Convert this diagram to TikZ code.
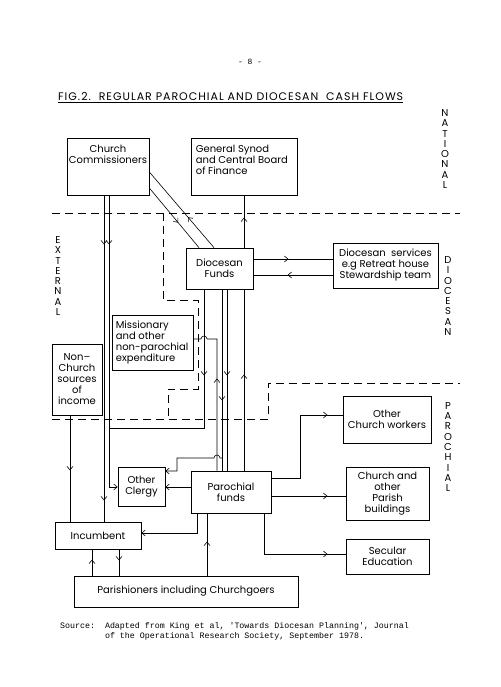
\documentclass[tikz,border=0pt]{standalone}
\usepackage{fontspec}
\newfontfamily\lettering{Poppins}
\newfontfamily\typewriter{Liberation Mono}
\usetikzlibrary{arrows.meta, positioning, decorations.markings}

\begin{document}
\begin{tikzpicture}[
    x=1pt, y=-1pt,
    box/.style={rectangle, draw, line width=0.7pt, inner sep=4pt, align=center, font=\lettering\fontsize{10}{11}\selectfont},
    boxtext/.style={align=center, inner sep=0pt, font=\lettering\fontsize{10}{11}\selectfont},
    side/.style={align=center, inner sep=0pt, font=\lettering\fontsize{10}{10.3}\selectfont},
    flow/.style={line width=0.6pt},
    into/.style={flow, -{Straight Barb[length=3.5pt, width=6pt]}},
    flowmark/.style={postaction={decorate, decoration={markings, mark=at position #1 with {\arrow{Straight Barb[length=3.5pt, width=6pt]}}}}},
    boundary/.style={line width=0.8pt, dash pattern=on 8pt off 5pt}
]
    \fill[white] (0,0) rectangle (500,687);

    % Heading
    \node[font=\typewriter\fontsize{8}{8}\selectfont] (page) at (250,62) {- 8 -};
    \node[anchor=base west, inner sep=0pt, font=\lettering\fontsize{11}{13}\selectfont\addfontfeature{LetterSpace=9}] (title) at (58,101)
        {\underline{FIG.2.\ \ REGULAR PAROCHIAL AND DIOCESAN\ \ CASH FLOWS}};

    % Levels
    \node[side] (national) at (445,149) {N\\A\\T\\I\\O\\N\\A\\L};
    \node[side] (external) at (58,276) {E\\X\\T\\E\\R\\N\\A\\L};
    \node[side] (diocesan) at (448,296) {D\\I\\O\\C\\E\\S\\A\\N};
    \node[side] (parochial) at (448,447) {P\\A\\R\\O\\C\\H\\I\\A\\L};

    % Boxes - national
    \node[box, minimum width=82, minimum height=57] (cc) at (108,166.5) {};
    \node[boxtext, below=7pt of cc.north] (cc-text) {Church\\Commissioners};
    \node[box, minimum width=106, minimum height=57] (gs) at (244,166.5) {};
    \node[boxtext, align=left, below right=7pt and 5pt of gs.north west] (gs-text) {General Synod\\and Central Board\\of Finance};

    % Boxes - diocesan
    \node[box, minimum width=67, minimum height=41] (df) at (219.5,268.5) {Diocesan\\Funds};
    \node[box, minimum width=105, minimum height=45] (ds) at (385.5,265.5) {};
    \node[boxtext, below=6pt of ds.north] (ds-text) {Diocesan\ \ services\\e.g Retreat house\\Stewardship team};
    \node[box, minimum width=81, minimum height=55] (miss) at (152.5,342.5) {};
    \node[boxtext, align=left, below right=6pt and 4pt of miss.north west] (miss-text) {Missionary\\and other\\non-parochial\\expenditure};
    \node[box, minimum width=50, minimum height=71] (nc) at (77,379.5) {Non\textendash\\Church\\sources\\of\\income};

    % Boxes - parochial
    \node[box, minimum width=88, minimum height=47] (ocw) at (387,419.5) {Other\\Church workers};
    \node[box, minimum width=83, minimum height=53] (cpb) at (387.5,493.5) {Church and\\other\\Parish\\buildings};
    \node[box, minimum width=83, minimum height=35] (se) at (387.5,556.5) {Secular\\Education};
    \node[box, minimum width=47, minimum height=39] (oc) at (141.5,486.5) {Other\\Clergy};
    \node[box, minimum width=80, minimum height=42] (pf) at (231,492) {Parochial\\funds};
    \node[box, minimum width=86, minimum height=27] (inc) at (98,535.5) {Incumbent};
    \node[box, minimum width=224, minimum height=31] (par) at (186,591.5) {Parishioners including Churchgoers};

    % Boundaries
    \draw[boundary] (52,213) -- (460,213);
    \draw[boundary] (52,419) -- (268,419) -- (268,383) -- (460,383);
    \draw[boundary] (163,213) -- (163,300) -- (198,300) -- (198,389) -- (168,389) -- (168,419);

    % Flows from the centre
    \coordinate (merge) at (109,428);
    \coordinate (split) at (222,458);
    \draw[flow, flowmark=49pt, flowmark=305pt] (cc.south -| 104,0) -- (inc.north -| 104,0);
    \draw[into, flowmark=49pt] (cc.south -| 109,0) |- (oc.west |- 0,487);
    \draw[flow, flowmark=45pt] (cc.east |- 0,188) -- (df.north -| 199,0);
    \draw[flow, flowmark=40pt] (df.north -| 214,0) -- (cc.east |- 0,172);
    \draw[flow, flowmark=30pt] (df.north -| 244,0) -- (gs.south -| 244,0);
    \draw[flow, flowmark=35pt] (df.east |- 0,259) -- (ds.west |- 0,259);
    \draw[flow, flowmark=45pt] (ds.west |- 0,275) -- (df.east |- 0,275);
    \draw[flow, flowmark=86pt] (df.south -| 204,0) |- (merge);
    \draw[flow, flowmark=92pt] (pf.north -| 217,0) -- (217,339) -- (207,339)
        arc[start angle=0, end angle=180, radius=3pt] -- (miss.east |- 0,339);
    \draw[flow, flowmark=111pt] (df.south -| 222,0) -- (pf.north -| 222,0);
    \draw[into] (split) -- (220,458) arc[start angle=0, end angle=180, radius=3pt] -- (177,458) |- (oc.east |- 0,471);
    \draw[flow, flowmark=86pt] (df.south -| 227,0) -- (pf.north -| 227,0);
    \draw[flow, flowmark=96pt] (pf.north -| 244,0) -- (df.south -| 244,0);

    % Parochial flows
    \draw[flow, flowmark=55pt] (nc.south -| 70,0) -- (inc.north -| 70,0);
    \draw[into] (pf.west |- 0,487) -- (oc.east |- 0,487);
    \draw[into] (pf.south -| 197,0) |- (inc.east |- 0,533);
    \draw[flow, flowmark=34pt] (par.north -| 207,0) -- (pf.south -| 207,0);
    \draw[flow, flowmark=16pt] (par.north -| 92,0) -- (inc.south -| 92,0);
    \draw[flow, flowmark=11pt] (inc.south -| 119,0) -- (par.north -| 119,0);
    \draw[flow, flowmark=119pt] (pf.east |- 0,478) -- (300,478) |- (ocw.west |- 0,415);
    \draw[flow, flowmark=56pt] (pf.east |- 0,496) -- (cpb.west |- 0,496);
    \draw[flow, flowmark=104pt] (pf.south -| 264,0) |- (se.west |- 0,554);

    % Source
    \node[anchor=base west, align=left, inner sep=0pt, font=\typewriter\fontsize{8.3}{10}\selectfont] (source) at (60,638)
        {Source:\ \ Adapted from King et al, 'Towards Diocesan Planning', Journal\\
         \hphantom{Source:\ \ }of the Operational Research Society, September 1978.};
\end{tikzpicture}
\end{document}
